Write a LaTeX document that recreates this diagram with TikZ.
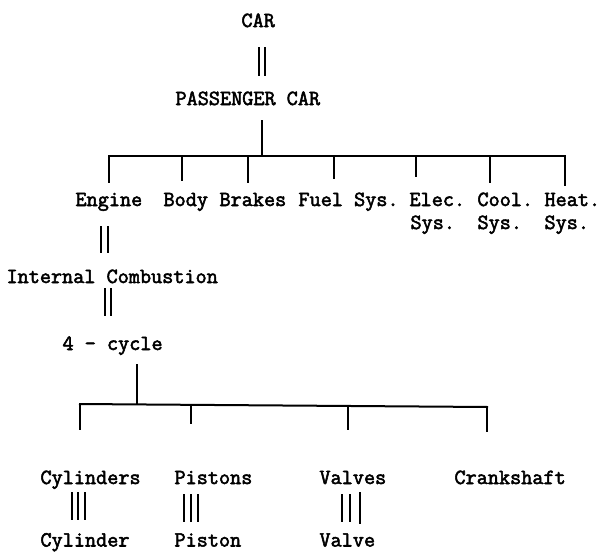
\documentclass[tikz,border=0pt]{standalone}
\usepackage{fontspec}
\newfontfamily\tw{Latin Modern Mono}[FakeBold=2.5]
\usetikzlibrary{calc}
\begin{document}
\begin{tikzpicture}[x=1pt,y=-1pt,
  lbl/.style={font=\tw\fontsize{21.6}{24}\selectfont, inner sep=0pt, outer sep=0pt,
    text height=13.2pt, text depth=0pt, anchor=south west},
  ln/.style={line width=2pt, black}]
\useasboundingbox (0,0) rectangle (600,552);
% nodes
\node[lbl] (car) at (241.5,27) {CAR};
\node[lbl] (pc) at (175.5,105) {PASSENGER CAR};
\node[lbl] (eng) at (75.5,206) {Engine};
\node[lbl] (body) at (163.5,206) {Body};
\node[lbl] (brk) at (219.5,206) {Brakes};
\node[lbl] (fuel) at (298.5,206) {Fuel Sys.};
\node[lbl] (elec) at (409.5,206) {Elec.};
\node[lbl] (elecs) at (410.5,229) {Sys.};
\node[lbl] (cool) at (477.5,206) {Cool.};
\node[lbl] (cools) at (477.5,229) {Sys.};
\node[lbl] (heat) at (544.5,206) {Heat.};
\node[lbl] (heats) at (544.5,229) {Sys.};
\node[lbl] (ic) at (6.5,283) {Internal Combustion};
\node[lbl] (fc) at (62.5,350) {4 - cycle};
\node[lbl] (cyl) at (40.5,484) {Cylinders};
\node[lbl] (pis) at (174.5,484) {Pistons};
\node[lbl] (val) at (319.5,484) {Valves};
\node[lbl] (crk) at (454.5,484) {Crankshaft};
\node[lbl] (cyl1) at (40.5,546.5) {Cylinder};
\node[lbl] (pis1) at (174.5,546.5) {Piston};
\node[lbl] (val1) at (319.5,546.5) {Valve};
% junction coordinates
\coordinate (j1) at (262,155.5);
\coordinate (d1) at (109,155.5);
\coordinate (d2) at (182,155.5);
\coordinate (d3) at (248,155.5);
\coordinate (d4) at (334,155.5);
\coordinate (d5) at (416,155.5);
\coordinate (d6) at (490,155.5);
\coordinate (d7) at (565,155.5);
\coordinate (j2) at (137,404.4);
\coordinate (e1) at (80,404);
\coordinate (e2) at (191,404.8);
\coordinate (e3) at (348,406);
\coordinate (e4) at (487,407);
% CAR = PASSENGER CAR
\foreach \dx in {17,23}
  \draw[ln] ($(car.south west)+(\dx,20)$) -- ($(car.south west |- pc.north)+(\dx,-16)$);
% PASSENGER CAR to bar
\draw[ln] ($(j1 |- pc.south)+(0,15)$) -- (j1);
\draw[ln] ([xshift=-1pt]d1) -- ([xshift=1pt]d7);
\draw[ln] (d1) -- ($(d1 |- eng.north)+(0,-10)$);
\draw[ln] (d2) -- ($(d2 |- body.north)+(0,-12)$);
\draw[ln] (d3) -- ($(d3 |- brk.north)+(0,-10)$);
\draw[ln] (d4) -- ($(d4 |- fuel.north)+(0,-14)$);
\draw[ln] (d5) -- ($(d5 |- elec.north)+(0,-16)$);
\draw[ln] (d6) -- ($(d6 |- cool.north)+(0,-10)$);
\draw[ln] (d7) -- ($(d7 |- heat.north)+(0,-7)$);
% Engine = Internal Combustion
\foreach \dx in {25.5,32.5}
  \draw[ln] ($(eng.south west)+(\dx,20)$) -- ($(eng.south west |- ic.north)+(\dx,-17)$);
% Internal Combustion = 4 - cycle
\foreach \dx in {98.5,104.5}
  \draw[ln] ($(ic.south west)+(\dx,5)$) -- ($(ic.south west |- fc.north)+(\dx,-21)$);
% 4 - cycle to bar
\draw[ln] ($(j2 |- fc.south)+(0,14)$) -- (j2);
\draw[ln] ([xshift=-1pt]e1) -- ([xshift=1pt]e4);
\draw[ln] (e1) -- ($(e1 |- cyl.north)+(0,-41)$);
\draw[ln] (e2) -- ($(e2 |- pis.north)+(0,-47)$);
\draw[ln] (e3) -- ($(e3 |- val.north)+(0,-41)$);
\draw[ln] (e4) -- ($(e4 |- crk.north)+(0,-39)$);
% triple lines
\foreach \dx in {31.5,37.5,44.5}
  \draw[ln] ($(cyl.south west)+(\dx,8)$) -- ($(cyl.south west |- cyl1.north)+(\dx,-13.5)$);
\foreach \dx in {9.5,16.5,23.5}
  \draw[ln] ($(pis.south west)+(\dx,10)$) -- ($(pis.south west |- pis1.north)+(\dx,-11.5)$);
\foreach \dx in {22.5,30.5}
  \draw[ln] ($(val.south west)+(\dx,10)$) -- ($(val.south west |- val1.north)+(\dx,-11.5)$);
\draw[ln] ($(val.south west)+(40.5,8)$) -- ($(val.south west |- val1.north)+(40.5,-9.5)$);
\end{tikzpicture}
\end{document}
